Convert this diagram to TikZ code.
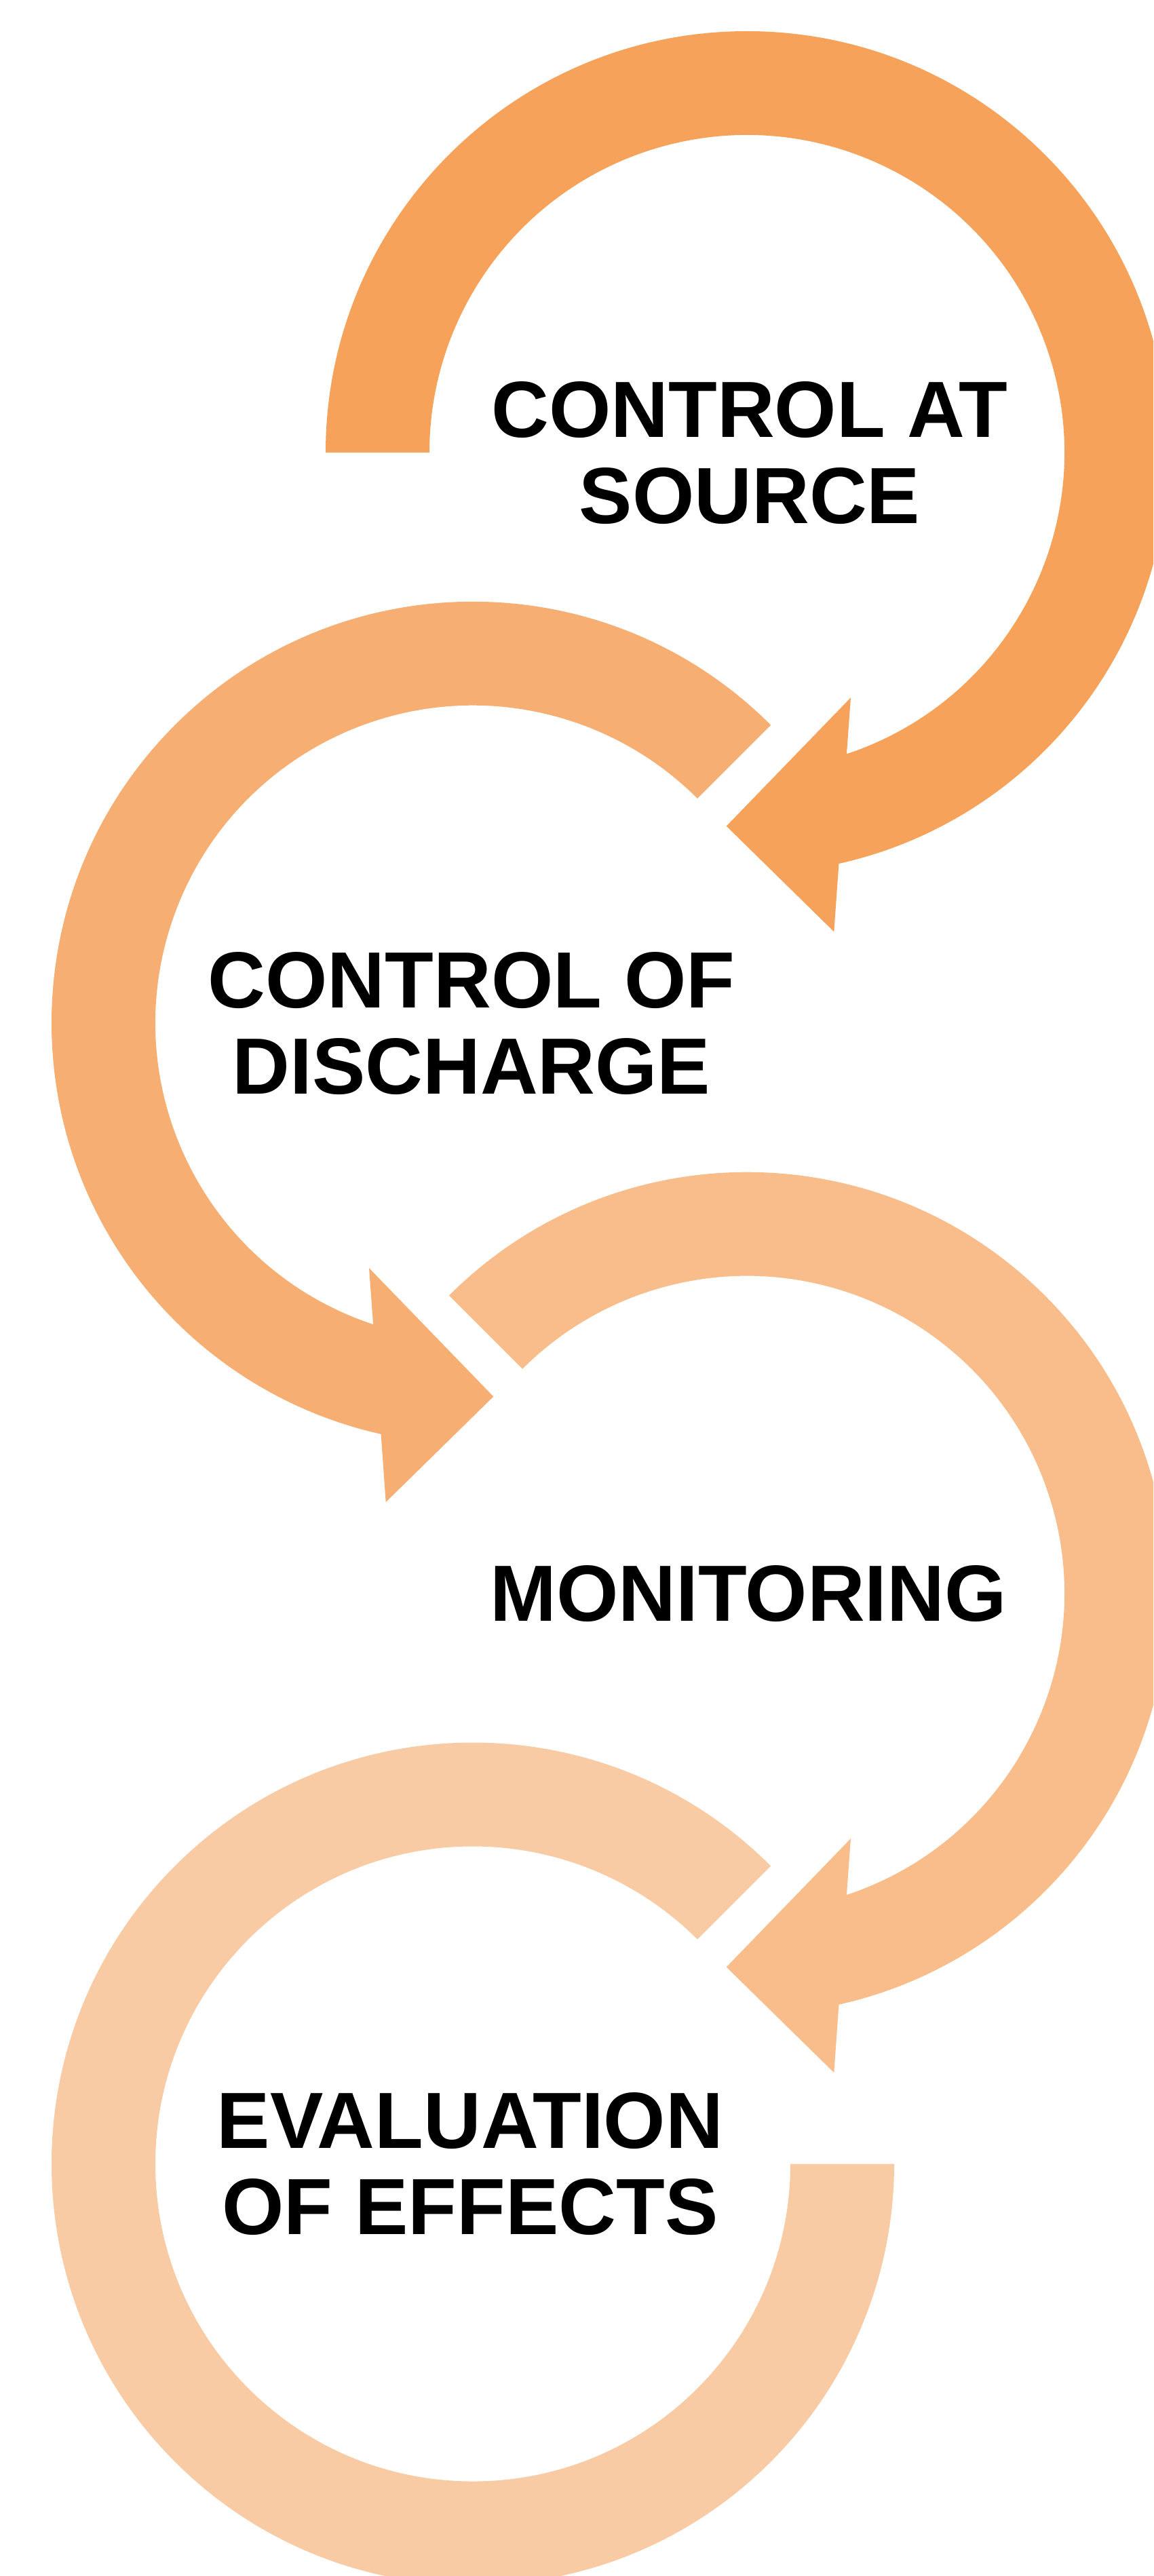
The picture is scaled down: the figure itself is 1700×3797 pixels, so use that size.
\documentclass[tikz,border=0pt]{standalone}
\usepackage{fontspec}
\setmainfont{Liberation Sans}
\usepackage{tikz}
\definecolor{ringone}{HTML}{F6A25A}
\definecolor{ringtwo}{HTML}{F7AE72}
\definecolor{ringthree}{HTML}{F9BD8B}
\definecolor{ringfour}{HTML}{F9CBA5}

\begin{document}
\begin{tikzpicture}[x=0.01cm,y=0.01cm,
    ringtext/.style={font=\bfseries\fontsize{33.4}{36.1}\selectfont,align=center,inner sep=0pt}]
    \pgfmathsetmacro{\rout}{621}
    \pgfmathsetmacro{\rin}{468}
    \useasboundingbox (0,0) rectangle (1700,-3797);
    \clip (0,0) rectangle (1700,-3797);
    \coordinate (c1) at (1101,-667);
    \coordinate (c2) at (697,-1507.8);
    \coordinate (c3) at (1101,-2348.7);
    \coordinate (c4) at (697,-3189.5);
    % first ring, clockwise from the left
    \begin{scope}[shift={(c1)}]
    \fill[ringone] (180:\rout) arc[start angle=180,end angle=-77.4,radius=\rout] -- (128.3,-706.3) -- (-30.3,-550.7) -- (153,-361.3) -- (-71.7:\rin) arc[start angle=-71.7,end angle=180,radius=\rin] -- cycle;
    \end{scope}
    % second ring, mirrored
    \begin{scope}[shift={(c2)},xscale=-1]
    \fill[ringtwo] (135:\rout) arc[start angle=135,end angle=-77.4,radius=\rout] -- (128.3,-706.3) -- (-30.3,-550.7) -- (153,-361.3) -- (-71.7:\rin) arc[start angle=-71.7,end angle=135,radius=\rin] -- cycle;
    \end{scope}
    \begin{scope}[shift={(c3)}]
    \fill[ringthree] (135:\rout) arc[start angle=135,end angle=-77.4,radius=\rout] -- (128.3,-706.3) -- (-30.3,-550.7) -- (153,-361.3) -- (-71.7:\rin) arc[start angle=-71.7,end angle=135,radius=\rin] -- cycle;
    \end{scope}
    % last ring has no head
    \begin{scope}[shift={(c4)},xscale=-1]
    \fill[ringfour] (135:\rout) arc[start angle=135,end angle=-180,radius=\rout] -- (-180:\rin) arc[start angle=-180,end angle=135,radius=\rin] -- cycle;
    \end{scope}
    \node[ringtext] (source) at (1105,-668) {CONTROL AT\\SOURCE};
    \node[ringtext] (discharge) at (695,-1509) {CONTROL OF\\DISCHARGE};
    \node[ringtext] (monitoring) at (1103,-2349) {MONITORING};
    \node[ringtext] (evaluation) at (693,-3190) {EVALUATION\\OF EFFECTS};
\end{tikzpicture}
\end{document}
